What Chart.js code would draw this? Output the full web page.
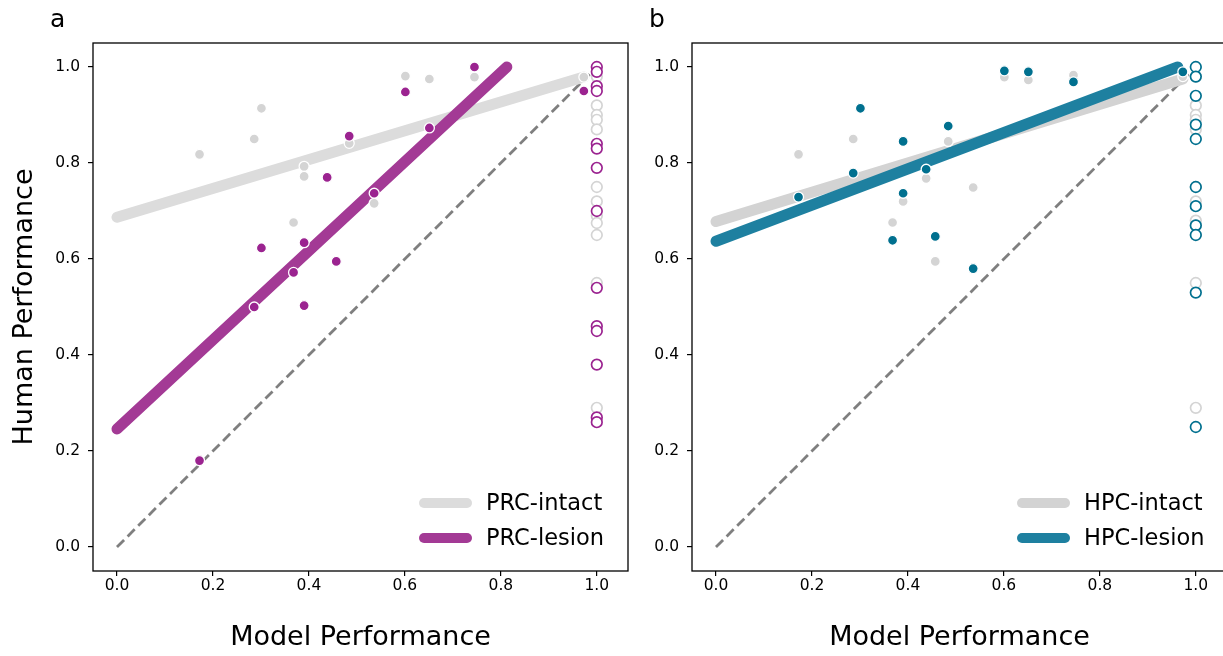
<!DOCTYPE html>
<html><head><meta charset="utf-8">
<script src="https://cdn.jsdelivr.net/npm/chart.js@4/dist/chart.umd.min.js"></script>
<style>
html,body{margin:0;padding:0;background:#fff;overflow:hidden;width:1223px;height:656px;position:relative;}
.wrap{position:absolute;top:0;width:640px;height:656px;}
#w1{left:0}#w2{left:599px}
.lbl{position:absolute;top:4px;font-family:"DejaVu Sans";font-size:25px;color:#000;}
</style></head><body>
<div class="wrap" id="w1"><canvas id="c1" width="640" height="656"></canvas></div>
<div class="wrap" id="w2"><canvas id="c2" width="640" height="656"></canvas></div>
<div class="lbl" style="left:50px">a</div>
<div class="lbl" style="left:649px">b</div>
<script>
// ---- data ----
const modelX = [0.172,0.286,0.301,0.368,0.390,0.390,0.438,0.457,0.484,0.536,0.601,0.651,0.745,0.973];
const prcIntactY = [0.818,0.850,0.914,0.676,0.793,0.772,0.768,0.595,0.841,0.716,0.981,0.975,0.979,0.979];
const prcLesionY = [0.180,0.500,0.623,0.572,0.634,0.503,0.770,0.595,0.856,0.737,0.948,0.873,1.000,0.950];
const hpcIntactY = [0.818,0.850,0.914,0.676,0.720,0.845,0.768,0.595,0.845,0.749,0.979,0.973,0.983,0.980];
const hpcLesionY = [0.729,0.779,0.914,0.639,0.737,0.845,0.787,0.647,0.877,0.580,0.992,0.990,0.969,0.990];

// items where the model is at ceiling (x = 1.0)
const ceilX = 1.0;
const prcIntactCeilY = [0.98,0.92,0.90,0.89,0.87,0.75,0.72,0.69,0.675,0.65,0.55,0.29];
const prcLesionCeilY = [1.00,0.99,0.96,0.95,0.84,0.83,0.79,0.70,0.54,0.46,0.45,0.38,0.27,0.26];
const hpcIntactCeilY = [0.98,0.92,0.90,0.89,0.87,0.75,0.72,0.68,0.67,0.65,0.55,0.29];
const hpcLesionCeilY = [1.00,0.98,0.94,0.88,0.85,0.75,0.71,0.67,0.65,0.53,0.25];

// fitted regression lines (endpoints)
const prcIntactFitX = [0, 0.973], prcIntactFitY = [0.687, 0.979];
const prcLesionFitX = [0, 0.8125], prcLesionFitY = [0.246, 1.000];
const hpcIntactFitX = [0, 0.973], hpcIntactFitY = [0.678, 0.975];
const hpcLesionFitX = [0, 0.9625], hpcLesionFitY = [0.637, 1.000];
const diagXY = [0, 0.985];

const tickVals = [0.0,0.2,0.4,0.6,0.8,1.0];

const GREY_PT = '#d4d4d4';
const PURPLE_PT = '#9b2390', PURPLE_LN = '#a33a95';
const TEAL_PT = '#00708f', TEAL_LN = '#1e80a0';
const FONT = '"DejaVu Sans", sans-serif';

const pts = (xs, ys) => ys.map((y,i)=>({x: Array.isArray(xs)? xs[i] : xs, y}));

function lineDS(xs, ys, color, order){
  return {data: pts(xs, ys), showLine:true, borderColor:color, borderWidth:11,
    borderCapStyle:'round', pointRadius:0, pointHoverRadius:0, order};
}
function filledDS(ys, color, order){
  return {data: pts(modelX, ys), showLine:false, pointRadius:5, pointBackgroundColor:color,
    pointBorderColor:'#ffffff', pointBorderWidth:1.3, order};
}
function openDS(ys, color, order){
  return {data: pts(ceilX, ys), showLine:false, pointRadius:5.3, pointBackgroundColor:'#ffffff',
    pointBorderColor:color, pointBorderWidth:1.7, order};
}

const framePlugin = {
  id:'frame',
  afterDraw(chart, args, opts){
    const {ctx, chartArea:a} = chart;
    ctx.save();
    ctx.strokeStyle = '#000'; ctx.lineWidth = 1.3;
    ctx.strokeRect(a.left, a.top, a.right-a.left, a.bottom-a.top);
    // legend
    const L = opts.items || [];
    ctx.font = '22.5px ' + FONT;
    ctx.textBaseline = 'middle';
    L.forEach((it, i)=>{
      const y = opts.y0 + i*opts.dy;
      ctx.strokeStyle = it.color; ctx.lineWidth = 10; ctx.lineCap='round';
      ctx.beginPath(); ctx.moveTo(opts.x0, y); ctx.lineTo(opts.x0+43, y); ctx.stroke();
      ctx.fillStyle = '#000';
      ctx.fillText(it.label, opts.x0+62, y+1);
    });
    ctx.restore();
  }
};

function makeChart(id, cfg){
  const xScale = {
    type:'linear', min:-0.05, max:1.065,
    afterBuildTicks: s => { s.ticks = tickVals.map(v=>({value:v})); },
    afterFit: s => { s.height = 85; },
    grid:{drawOnChartArea:false, drawTicks:true, tickLength:5, color:'#000', lineWidth:1.2},
    border:{display:false},
    ticks:{color:'#000', font:{family:FONT, size:15.5}, padding:1, maxRotation:0,
      callback: v => Number(v).toFixed(1)},
    title:{display:true, text:'Model Performance', color:'#000', font:{family:FONT, size:27},
      padding:{top:0,bottom:2}}
  };
  const yScale = {
    type:'linear', min:-0.05, max:1.05,
    afterBuildTicks: s => { s.ticks = tickVals.map(v=>({value:v})); },
    afterFit: s => { s.width = 93; },
    grid:{drawOnChartArea:false, drawTicks:true, tickLength:5, color:'#000', lineWidth:1.2},
    border:{display:false},
    ticks:{color:'#000', font:{family:FONT, size:15.5}, padding:8,
      callback: v => Number(v).toFixed(1)},
    title:{display:cfg.yTitle, text:'Human Performance', color:'#000', font:{family:FONT, size:27},
      padding:{top:9,bottom:0}}
  };
  return new Chart(document.getElementById(id), {
    type:'scatter',
    data:{datasets: cfg.datasets},
    options:{
      responsive:false, animation:false, devicePixelRatio:1,
      layout:{padding:{top:43, right:12, bottom:0, left:0}},
      scales:{x:xScale, y:yScale},
      plugins:{legend:{display:false}, tooltip:{enabled:false},
        frame:{items:cfg.legend, x0:cfg.legendX, y0:503, dy:35}}
    },
    plugins:[framePlugin]
  });
}

makeChart('c1', {
  yTitle:true, legendX:424,
  legend:[{label:'PRC-intact', color:'#dcdcdc'},{label:'PRC-lesion', color:PURPLE_LN}],
  datasets:[
    {data: pts(diagXY, diagXY), showLine:true, borderColor:'#7f7f7f', borderWidth:2.8,
      borderDash:[10,5], pointRadius:0, order:10},
    lineDS(prcIntactFitX, prcIntactFitY, '#dcdcdc', 9),
    lineDS(prcLesionFitX, prcLesionFitY, PURPLE_LN, 8),
    filledDS(prcIntactY, GREY_PT, 7),
    filledDS(prcLesionY, PURPLE_PT, 6),
    openDS(prcIntactCeilY, GREY_PT, 5),
    openDS(prcLesionCeilY, PURPLE_PT, 4)
  ]
});

makeChart('c2', {
  yTitle:false, legendX:423,
  legend:[{label:'HPC-intact', color:'#d3d3d3'},{label:'HPC-lesion', color:TEAL_LN}],
  datasets:[
    {data: pts(diagXY, diagXY), showLine:true, borderColor:'#7f7f7f', borderWidth:2.8,
      borderDash:[10,5], pointRadius:0, order:10},
    lineDS(hpcIntactFitX, hpcIntactFitY, '#d3d3d3', 9),
    lineDS(hpcLesionFitX, hpcLesionFitY, TEAL_LN, 8),
    filledDS(hpcIntactY, GREY_PT, 7),
    filledDS(hpcLesionY, TEAL_PT, 6),
    openDS(hpcIntactCeilY, GREY_PT, 5),
    openDS(hpcLesionCeilY, TEAL_PT, 4)
  ]
});
</script>
</body></html>
